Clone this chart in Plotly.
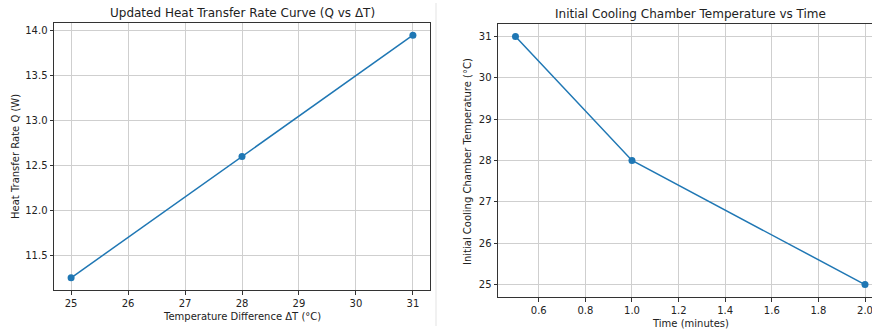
import plotly.graph_objects as go

# Data
delta_t = [25, 28, 31]
heat_q = [11.25, 12.6, 13.95]
time_min = [0.5, 1.0, 2.0]
chamber_temp = [31, 28, 25]

left_xticks = [25, 26, 27, 28, 29, 30, 31]
left_yticks = [11.5, 12.0, 12.5, 13.0, 13.5, 14.0]
right_xticks = [0.6, 0.8, 1.0, 1.2, 1.4, 1.6, 1.8, 2.0]
right_yticks = [25, 26, 27, 28, 29, 30, 31]

W, H = 872, 331
BLUE = "#1f77b4"
FONT = "DejaVu Sans"
GRID = "#cfcfcf"
SPINE = "#333333"

fig = go.Figure()
fig.add_trace(go.Scatter(x=delta_t, y=heat_q, mode="lines+markers",
                         line=dict(color=BLUE, width=1.5),
                         marker=dict(color=BLUE, size=7),
                         xaxis="x", yaxis="y", showlegend=False))
fig.add_trace(go.Scatter(x=time_min, y=chamber_temp, mode="lines+markers",
                         line=dict(color=BLUE, width=1.5),
                         marker=dict(color=BLUE, size=7),
                         xaxis="x2", yaxis="y2", showlegend=False,
                         cliponaxis=False))

def px_x(p):
    return p / W

def px_y(p):
    return 1 - p / H

axis_common = dict(showgrid=True, gridcolor=GRID, gridwidth=1,
                   showline=True, linecolor=SPINE, linewidth=1,
                   ticks="outside", ticklen=3.5, tickwidth=1, tickcolor=SPINE,
                   tickfont=dict(family=FONT, size=10, color="#222"),
                   ticklabeloverflow="allow",
                   zeroline=False)

fig.update_layout(
    width=W, height=H,
    margin=dict(l=0, r=0, t=0, b=0),
    paper_bgcolor="white", plot_bgcolor="white",
    font=dict(family=FONT),
    xaxis=dict(domain=[px_x(54), px_x(430)], range=[24.7, 31.3],
               tickvals=left_xticks, ticktext=[str(v) for v in left_xticks],
               anchor="y", mirror=True, **axis_common),
    yaxis=dict(domain=[px_y(290), px_y(23)], range=[11.115, 14.085],
               tickvals=left_yticks, ticktext=[f"{v:.1f}" for v in left_yticks],
               anchor="x", mirror=True, **axis_common),
    xaxis2=dict(domain=[px_x(498), 1.0], range=[0.425, 2.0 + 7 / 232.9],
                tickvals=right_xticks, ticktext=[f"{v:.1f}" for v in right_xticks],
                anchor="y2", mirror=True, **axis_common),
    yaxis2=dict(domain=[px_y(297), px_y(24)], range=[24.7, 31.3],
                tickvals=right_yticks, ticktext=[str(v) for v in right_yticks],
                anchor="x2", mirror=False, **axis_common),
)

annots = [
    dict(text="Updated Heat Transfer Rate Curve (Q vs ΔT)", x=px_x(242), y=px_y(13), size=12),
    dict(text="Initial Cooling Chamber Temperature vs Time", x=px_x(690), y=px_y(14), size=12),
    dict(text="Temperature Difference ΔT (°C)", x=px_x(242), y=px_y(316), size=10),
    dict(text="Time (minutes)", x=px_x(690), y=px_y(323), size=10),
]
for a in annots:
    fig.add_annotation(text=a["text"], x=a["x"], y=a["y"], xref="paper", yref="paper",
                       xanchor="center", yanchor="middle", showarrow=False,
                       font=dict(family=FONT, size=a["size"], color="#222"))

fig.add_annotation(text="Heat Transfer Rate Q (W)", x=px_x(16), y=px_y(157),
                   xref="paper", yref="paper", xanchor="center", yanchor="middle",
                   showarrow=False, textangle=-90,
                   font=dict(family=FONT, size=10, color="#222"))
fig.add_annotation(text="Initial Cooling Chamber Temperature (°C)", x=px_x(468), y=px_y(162),
                   xref="paper", yref="paper", xanchor="center", yanchor="middle",
                   showarrow=False, textangle=-90,
                   font=dict(family=FONT, size=10, color="#222"))

# separator line between panels
fig.add_shape(type="line", xref="paper", yref="paper",
              x0=px_x(436), x1=px_x(436), y0=px_y(3), y1=px_y(326),
              line=dict(color="#e3e3e3", width=1))

fig.write_html(
    "out.html",
    config={"displayModeBar": False},
    post_script="document.body.style.margin='0';document.body.style.overflow='hidden';",
)
